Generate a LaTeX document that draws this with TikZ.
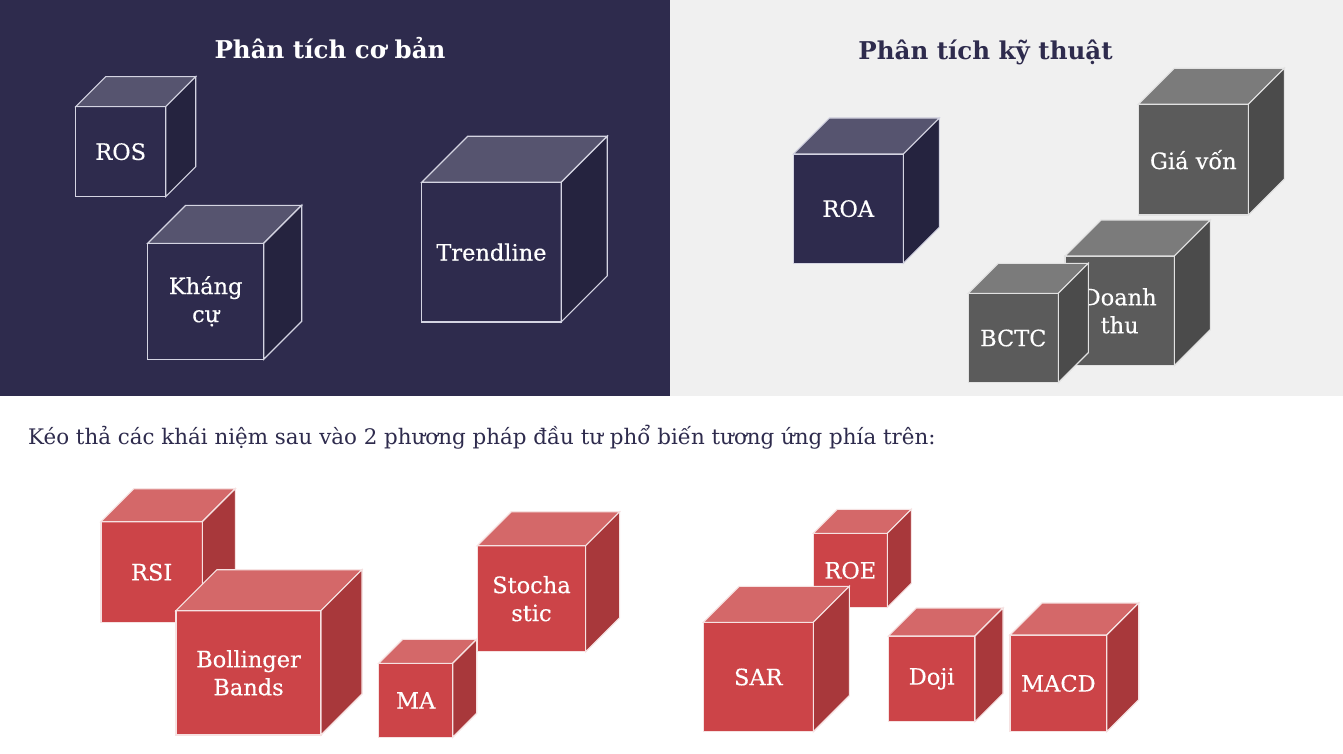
\documentclass[tikz,border=0pt]{standalone}
\usepackage{fontspec}
\setmainfont{DejaVu Serif}
\newfontfamily\labelfont[FakeBold=0.35]{DejaVu Serif}
\definecolor{navybg}{HTML}{2E2B4D}
\definecolor{navyF}{HTML}{2E2B4D}
\definecolor{navyT}{HTML}{56546F}
\definecolor{navyS}{HTML}{25233F}
\definecolor{navyE}{HTML}{D4D4E2}
\definecolor{lightbg}{HTML}{F0F0F0}
\definecolor{greyF}{HTML}{5B5B5B}
\definecolor{greyT}{HTML}{7B7B7B}
\definecolor{greyS}{HTML}{4B4B4B}
\definecolor{greyE}{HTML}{E2E2E2}
\definecolor{redF}{HTML}{CC4448}
\definecolor{redT}{HTML}{D46869}
\definecolor{redS}{HTML}{A8383B}
\definecolor{redE}{HTML}{F6E2E2}
\definecolor{instr}{HTML}{2E2B4D}
\tikzset{
  navyfront/.style={fill=navyF, draw=navyE, line width=1.1pt},
  navytop/.style={fill=navyT, draw=navyE, line width=1.1pt},
  navyside/.style={fill=navyS, draw=navyE, line width=1.1pt},
  greyfront/.style={fill=greyF, draw=greyE, line width=1.1pt},
  greytop/.style={fill=greyT, draw=greyE, line width=1.1pt},
  greyside/.style={fill=greyS, draw=greyE, line width=1.1pt},
  redfront/.style={fill=redF, draw=redE, line width=1.1pt},
  redtop/.style={fill=redT, draw=redE, line width=1.1pt},
  redside/.style={fill=redS, draw=redE, line width=1.1pt},
  cubelabel/.style={text=white, font=\labelfont\fontsize{22.5}{28}\selectfont, align=center, inner sep=0pt},
  titlelabel/.style={font=\fontsize{24.5}{30}\selectfont\bfseries, inner sep=0pt, anchor=base},
}
% #1 name, #2 x, #3 y, #4 w, #5 h, #6 d, #7 palette, #8 label
\newcommand{\mycube}[8]{%
  \path[#7front] (#2,#3) rectangle ({#2+#4},{#3+#5});
  \path[#7top] (#2,#3) -- ({#2+#6},{#3-#6}) -- ({#2+#4+#6},{#3-#6}) -- ({#2+#4},#3) -- cycle;
  \path[#7side] ({#2+#4},#3) -- ({#2+#4+#6},{#3-#6}) -- ({#2+#4+#6},{#3+#5-#6}) -- ({#2+#4},{#3+#5}) -- cycle;
  \node[cubelabel] (#1) at ({#2+#4/2},{#3+#5/2}) {#8};
}
\begin{document}
\begin{tikzpicture}[x=1pt,y=-1pt]
\useasboundingbox (0,0) rectangle (1343,754);
\fill[white] (0,0) rectangle (1343,754);
\fill[navybg] (0,0) rectangle (670,396);
\fill[lightbg] (670,0) rectangle (1343,396);
\node[titlelabel, text=white] (t1) at (330,59) {Phân tích cơ bản};
\node[titlelabel, text=instr] (t2) at (985.5,59.5) {Phân tích kỹ thuật};
% left panel
\mycube{ros}{75.7}{106.7}{90}{90}{30}{navy}{ROS}
\mycube{khang}{147.7}{243.3}{116}{116}{38}{navy}{Kháng\\cự}
\mycube{trend}{421.7}{182.3}{139.5}{139.7}{46}{navy}{Trendline}
% right panel
\mycube{roa}{793.3}{154}{110}{109.3}{36}{navy}{ROA}
\mycube{gia}{1138.3}{104.3}{110}{110.7}{36}{grey}{Giá vốn}
\mycube{doanh}{1065}{256}{109.3}{109.7}{36}{grey}{Doanh\\thu}
\mycube{bctc}{968.3}{293.3}{90}{89.4}{30}{grey}{BCTC}
% instruction
\node[anchor=base west, text=instr, font=\fontsize{21.4}{24}\selectfont, inner sep=0pt] (instr) at (28,444) {Kéo thả các khái niệm sau vào 2 phương pháp đầu tư phổ biến tương ứng phía trên:};
% bottom cubes
\mycube{rsi}{101}{521.7}{101.3}{101}{33}{red}{RSI}
\mycube{boll}{176}{610.7}{145}{124.3}{41}{red}{Bollinger\\Bands}
\mycube{ma}{378.7}{663.3}{74}{74}{24}{red}{MA}
\mycube{stoch}{477.3}{545.7}{108.3}{106}{34}{red}{Stocha\\stic}
\mycube{roe}{813.3}{533.3}{74}{74}{24}{red}{ROE}
\mycube{sar}{703.3}{622.3}{110}{109.4}{36}{red}{SAR}
\mycube{doji}{888.3}{636}{86.7}{85.7}{28}{red}{Doji}
\mycube{macd}{1010}{635}{96.7}{96.7}{32}{red}{MACD}
\end{tikzpicture}
\end{document}
